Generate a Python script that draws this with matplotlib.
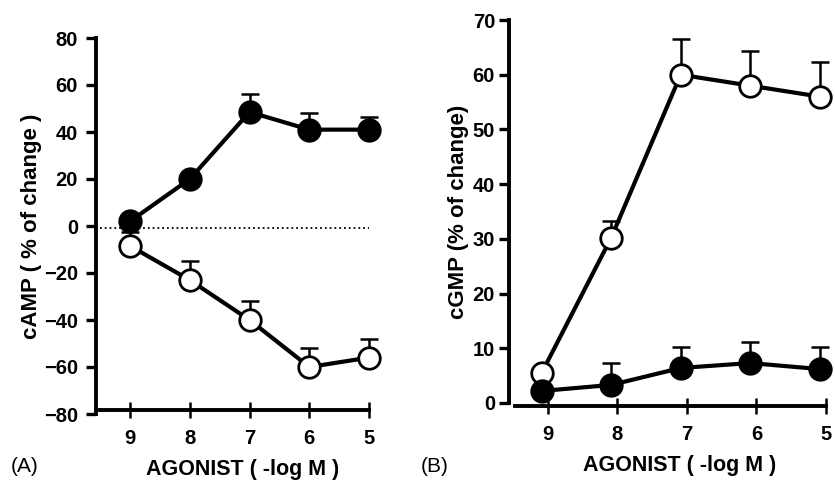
import matplotlib
matplotlib.use("Agg")
import matplotlib.pyplot as plt

plt.rcParams['font.family'] = ['Liberation Sans', 'DejaVu Sans']

# ---- data ----
agonist = [9, 8, 7, 6, 5]
tick_labels = ['9', '8', '7', '6', '5']

camp_filled = [2, 20, 48.5, 41, 41]
camp_filled_err = [0, 0, 7.5, 7, 5.5]
camp_open = [-8.5, -23, -40, -60, -56]
camp_open_err = [6, 8, 8, 8, 8]

cgmp_open = [5.5, 30.2, 60, 58, 56]
cgmp_open_err = [0, 3.1, 6.5, 6.4, 6.3]
cgmp_filled = [2.2, 3.3, 6.4, 7.3, 6.2]
cgmp_filled_err = [0, 4, 3.8, 3.9, 4]

W, H = 835, 480
fig = plt.figure(figsize=(W / 100, H / 100), dpi=100)


def frac(left, top, right, bottom):
    return [left / W, 1 - bottom / H, (right - left) / W, (bottom - top) / H]


LW = 3.0
MS = 15.5
TICKFS = 14.5
LABFS = 15.5


def draw_series(ax, x, y, err, filled, xoff=0.0):
    xs = [v + xoff for v in x]
    ax.errorbar(xs, y, yerr=[[0] * len(err), err], fmt='none', ecolor='black',
                elinewidth=1.8, capsize=6.5, capthick=1.8, zorder=2, clip_on=False)
    ax.plot(xs, y, '-', color='black', lw=LW, zorder=3, clip_on=False)
    ax.plot(xs, y, 'o', ms=MS, mec='black', mew=2.0,
            mfc='black' if filled else 'white', zorder=4, clip_on=False)


def style(ax, ybounds, xbounds, ybottom, ypad):
    for s in ['top', 'right']:
        ax.spines[s].set_visible(False)
    ax.spines['left'].set_linewidth(2.8)
    ax.spines['bottom'].set_linewidth(2.8)
    ax.spines['left'].set_bounds(*ybounds)
    ax.spines['bottom'].set_bounds(*xbounds)
    ax.spines['bottom'].set_position(('data', ybottom))
    ax.set_xticks(agonist)
    ax.set_xticklabels(tick_labels)
    ax.tick_params(axis='x', direction='inout', length=12, width=1.8, pad=8,
                   labelsize=TICKFS)
    ax.tick_params(axis='y', direction='out', length=7, width=2.4, pad=ypad,
                   labelsize=TICKFS)
    for t in ax.get_xticklabels() + ax.get_yticklabels():
        t.set_fontweight('bold')
    ax.patch.set_alpha(0)


# ---- Panel A ----
axA = fig.add_axes(frac(96, 38 - 4.7, 381, 414 + 4.7))
axA.set_xlim(9.57, 4.8)
axA.set_ylim(-82, 82)
axA.set_yticks(range(-80, 81, 20))
axA.plot([9.5, 5.0], [-1, -1], ':', color='black', lw=1.3, zorder=1)
draw_series(axA, agonist, camp_open, camp_open_err, filled=False)
draw_series(axA, agonist, camp_filled, camp_filled_err, filled=True)
style(axA, (-80, 80), (9.5, 5.0), -78.3, 6)
axA.set_ylabel('cAMP ( % of change )', fontsize=LABFS + 0.5, fontweight='bold',
               labelpad=1)
fig.text(243 / W, 1 - 469 / H, 'AGONIST ( -log M )', fontsize=LABFS,
         fontweight='bold', ha='center', va='center')
fig.text(11 / W, 1 - 467 / H, '(A)', fontsize=15, ha='left', va='center')

# ---- Panel B ----
axB = fig.add_axes(frac(509, 20 - 8.2, 835, 403 + 8.2))
axB.set_xlim(9.56, 4.87)
axB.set_ylim(-1.5, 71.5)
axB.set_yticks(range(0, 71, 10))
draw_series(axB, agonist, cgmp_open, cgmp_open_err, filled=False, xoff=0.09)
draw_series(axB, agonist, cgmp_filled, cgmp_filled_err, filled=True, xoff=0.09)
style(axB, (0, 70), (9.47, 5.0), -0.55, 3)
axB.set_ylabel('cGMP (% of change)', fontsize=LABFS + 0.5, fontweight='bold',
               labelpad=3)
fig.text(680 / W, 1 - 466 / H, 'AGONIST ( -log M )', fontsize=LABFS,
         fontweight='bold', ha='center', va='center')
fig.text(421 / W, 1 - 466 / H, '(B)', fontsize=15, ha='left', va='center')

fig.savefig('out.png', dpi=100)
